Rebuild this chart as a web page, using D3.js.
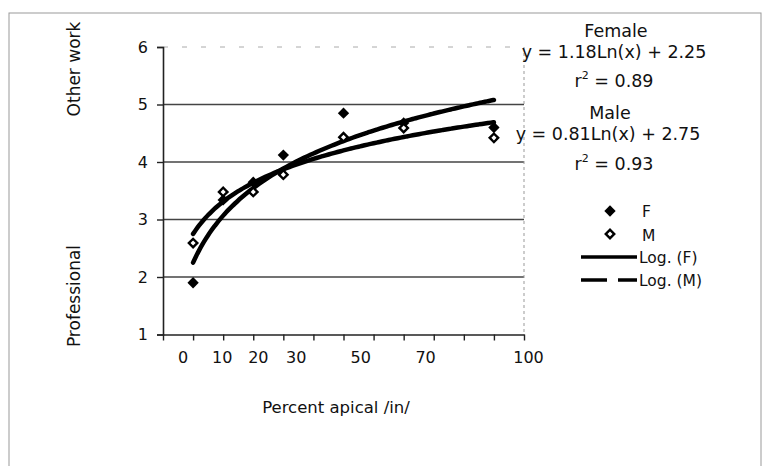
<!DOCTYPE html>
<meta charset="utf-8" />
<style>
    body { margin: 0; background: #fff; }
    text { font-family: "DejaVu Sans", Verdana, sans-serif; fill: #111; }
</style>
<svg width="765" height="466"></svg>
<script src="https://d3js.org/d3.v7.min.js"></script>
<script>
    // data (x = category position 1..12)
    var xPos = [1, 2, 3, 4, 6, 8, 11];
    var female = [1.90, 3.34, 3.65, 4.12, 4.85, 4.68, 4.60];
    var male = [2.59, 3.48, 3.48, 3.78, 4.43, 4.59, 4.42];

    // log fits shown on the chart: y = a*ln(x) + b
    var fitF = { a: 1.18, b: 2.25 };
    var fitM = { a: 0.81, b: 2.75 };

    var yTicks = [1, 2, 3, 4, 5, 6];
    var xTickLabels = ["0", "10", "20", "30", "50", "70", "100"];
    var xTickLabelAt = [0.67, 1.97, 3.17, 4.43, 6.57, 8.73, 12.15];

    var svg = d3.select("svg");

    // outer frame
    svg.append("rect")
        .attr("x", 9).attr("y", 13)
        .attr("width", 752).attr("height", 460)
        .attr("fill", "none")
        .attr("stroke", "#999")
        .attr("stroke-width", 1);

    var x = d3.scaleLinear().domain([0, 12]).range([163, 524]);
    var y = d3.scaleLinear().domain([1, 6]).range([334.5, 47]);

    // gridlines
    svg.append("g")
        .selectAll("line")
        .data(yTicks.filter(function (d) { return d > 1; }))
        .enter()
        .append("line")
        .attr("x1", x(0)).attr("x2", x(12))
        .attr("y1", function (d) { return y(d); })
        .attr("y2", function (d) { return y(d); })
        .attr("stroke", function (d) { return d == 6 ? "#aaa" : "#444"; })
        .attr("stroke-width", function (d) { return d == 6 ? 1 : 1.3; })
        .attr("stroke-dasharray", function (d) { return d == 6 ? "5,14" : null; });

    // right edge, dotted
    svg.append("line")
        .attr("x1", x(12)).attr("x2", x(12))
        .attr("y1", y(6)).attr("y2", y(1))
        .attr("stroke", "#999")
        .attr("stroke-dasharray", "3,3");

    // y axis
    var yAxis = svg.append("g")
        .attr("transform", "translate(" + x(0) + ",0)")
        .call(d3.axisLeft(y).tickValues(yTicks).tickSize(6).tickPadding(9).tickFormat(d3.format("d")));
    yAxis.select(".domain").attr("stroke", "#222").attr("stroke-width", 1.6);
    yAxis.selectAll(".tick line").attr("stroke", "#222").attr("stroke-width", 1.4);
    yAxis.selectAll(".tick text").attr("font-size", 16).style("font-family", "DejaVu Sans, sans-serif").attr("fill", "#111");

    // x axis, ticks only; labels placed separately
    var xAxis = svg.append("g")
        .attr("transform", "translate(0," + y(1) + ")")
        .call(d3.axisBottom(x).ticks(12).tickSize(6).tickSizeOuter(0).tickFormat(""));
    xAxis.select(".domain").attr("stroke", "#222").attr("stroke-width", 1.6);
    xAxis.selectAll(".tick line").attr("stroke", "#222").attr("stroke-width", 1.4);

    svg.append("g")
        .selectAll("text")
        .data(xTickLabels)
        .enter()
        .append("text")
        .attr("x", function (d, i) { return x(xTickLabelAt[i]); })
        .attr("y", 363)
        .attr("text-anchor", "middle")
        .attr("font-size", 16)
        .text(function (d) { return d; });

    // axis titles
    svg.append("text")
        .attr("x", 336).attr("y", 413)
        .attr("text-anchor", "middle")
        .attr("font-size", 16.5)
        .text("Percent apical /in/");

    svg.append("text")
        .attr("transform", "translate(80,69) rotate(-90)")
        .attr("text-anchor", "middle")
        .attr("font-size", 17)
        .text("Other work");

    svg.append("text")
        .attr("transform", "translate(80,296) rotate(-90)")
        .attr("text-anchor", "middle")
        .attr("font-size", 17)
        .text("Professional");

    // fit curves
    var fitLine = d3.line()
        .x(function (d) { return x(d[0]); })
        .y(function (d) { return y(d[1]); })
        .curve(d3.curveBasis);

    [fitF, fitM].forEach(function (f) {
        var pts = d3.range(1, 11.01, 0.1).map(function (v) { return [v, f.a * Math.log(v) + f.b]; });
        svg.append("path")
            .attr("d", fitLine(pts))
            .attr("fill", "none")
            .attr("stroke", "#000")
            .attr("stroke-width", 4.5)
            .attr("stroke-linecap", "round");
    });

    // markers: square rotated 45deg = even diamond
    var sq = d3.symbol().type(d3.symbolSquare);

    svg.append("g")
        .selectAll("path")
        .data(xPos)
        .enter()
        .append("path")
        .attr("d", sq.size(64))
        .attr("transform", function (d, i) { return "translate(" + x(d) + "," + y(female[i]) + ") rotate(45)"; })
        .attr("fill", "#000");

    svg.append("g")
        .selectAll("path")
        .data(xPos)
        .enter()
        .append("path")
        .attr("d", sq.size(36))
        .attr("transform", function (d, i) { return "translate(" + x(d) + "," + y(male[i]) + ") rotate(45)"; })
        .attr("fill", "#fff")
        .attr("stroke", "#000")
        .attr("stroke-width", 2.4);

    // equations
    var eq = [
        { t: "Female", x: 616, y: 37 },
        { t: "y = 1.18Ln(x) + 2.25", x: 614, y: 58 },
        { t: "r2 = 0.89", x: 614, y: 87, sup: true },
        { t: "Male", x: 610, y: 119 },
        { t: "y = 0.81Ln(x) + 2.75", x: 608, y: 140 },
        { t: "r2 = 0.93", x: 614, y: 170, sup: true }
    ];
    eq.forEach(function (e) {
        var t = svg.append("text")
            .attr("x", e.x).attr("y", e.y)
            .attr("text-anchor", "middle")
            .attr("font-size", 17.5);
        if (e.sup) {
            t.append("tspan").text("r");
            t.append("tspan").attr("dy", -8).attr("font-size", 11).text("2");
            t.append("tspan").attr("dy", 8).text(e.t.slice(2));
        } else {
            t.text(e.t);
        }
    });

    // legend
    var lg = svg.append("g");
    lg.append("path").attr("d", sq.size(64)).attr("transform", "translate(610,211) rotate(45)").attr("fill", "#000");
    lg.append("text").attr("x", 642).attr("y", 217).attr("font-size", 15.5).text("F");
    lg.append("path").attr("d", sq.size(36)).attr("transform", "translate(610,234) rotate(45)")
        .attr("fill", "#fff").attr("stroke", "#000").attr("stroke-width", 2.4);
    lg.append("text").attr("x", 642).attr("y", 241).attr("font-size", 15.5).text("M");
    lg.append("line").attr("x1", 581).attr("x2", 637).attr("y1", 257).attr("y2", 257)
        .attr("stroke", "#000").attr("stroke-width", 3.5);
    lg.append("text").attr("x", 639).attr("y", 263).attr("font-size", 15.5).text("Log. (F)");
    lg.append("line").attr("x1", 581).attr("x2", 637).attr("y1", 280).attr("y2", 280)
        .attr("stroke", "#000").attr("stroke-width", 3.5).attr("stroke-dasharray", "26,11,19");
    lg.append("text").attr("x", 639).attr("y", 286).attr("font-size", 15.5).text("Log. (M)");
</script>
